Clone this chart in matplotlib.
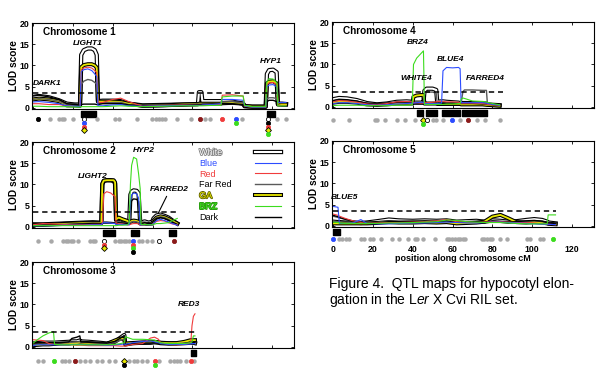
import matplotlib
matplotlib.use("Agg")
import matplotlib.pyplot as plt
import matplotlib.patheffects as pe

plt.rcParams['font.family'] = 'Liberation Sans'
plt.rcParams['mathtext.fontset'] = 'custom'
plt.rcParams['mathtext.rm'] = 'Liberation Sans'
plt.rcParams['mathtext.it'] = 'Liberation Sans:italic'

treatments = ['White', 'Blue', 'Red', 'Far Red', 'GA', 'BRZ', 'Dark']
threshold = 3.6
chrom_len = [127, 72.5, 81.5, 85.5, 112]

# ---- chromosome 1 (cM grid, LOD per treatment)
g1 = [0, 3, 8, 13, 17, 21, 23.6, 24.2, 25.5, 27.5, 29.5, 31, 32, 32.6, 35, 40, 44, 48, 55, 65,
      75, 82.8, 83.3, 84.5, 85, 90, 94.3, 95, 100, 105.5, 106.2, 110, 116.8, 117.4, 118.5, 120.5,
      122.3, 122.9, 125, 127]
c1_white = [2.6, 2.8, 2.5, 1.8, 1.0, 0.8, 0.8, 12.5, 13.6, 14.0, 14.0, 13.6, 12.5, 1.6, 1.7, 1.7, 1.6, 1.0, 0.6, 0.7,
            0.8, 0.9, 3.7, 3.7, 1.6, 1.6, 1.6, 1.6, 1.5, 1.0, 0.4, 0.3, 0.3, 8.0, 8.9, 9.0, 8.4, 1.0, 1.0, 0.9]
c1_blue = [1.4, 1.5, 1.3, 1.0, 0.5, 0.4, 0.3, 8.6, 9.0, 9.2, 8.8, 8.0, 7.4, 0.5, 0.5, 0.7, 0.8, 0.5, 0.4, 0.5,
           0.6, 0.6, 0.6, 0.6, 0.7, 0.8, 1.0, 2.0, 2.0, 1.8, 0.5, 0.2, 0.2, 5.0, 5.4, 5.5, 5.0, 1.3, 1.3, 1.3]
c1_red = [1.0, 1.0, 0.8, 0.8, 0.5, 0.3, 0.3, 9.0, 9.4, 9.6, 9.4, 8.8, 8.3, 1.3, 1.3, 2.0, 2.3, 1.5, 0.4, 0.6,
          0.7, 0.6, 0.6, 0.6, 0.6, 0.8, 0.8, 3.0, 3.1, 2.8, 0.4, 0.2, 0.2, 5.4, 5.9, 6.0, 5.5, 0.6, 0.6, 0.6]
c1_farred = [2.0, 2.2, 2.0, 1.6, 0.8, 0.6, 0.5, 5.5, 6.3, 6.7, 6.5, 6.0, 5.6, 1.2, 1.2, 1.3, 1.3, 0.8, 0.6, 0.7,
             0.8, 0.9, 0.9, 0.9, 1.0, 1.0, 1.0, 1.4, 1.5, 1.2, 0.5, 0.2, 0.2, 2.2, 2.4, 2.4, 2.2, 0.7, 0.5, 0.5]
c1_ga = [2.0, 2.2, 2.0, 1.6, 0.6, 0.6, 0.5, 9.6, 10.1, 10.3, 10.3, 10.0, 9.5, 1.5, 1.5, 1.5, 1.4, 1.0, 0.5, 0.6,
         0.8, 0.9, 1.0, 1.0, 1.0, 1.0, 1.0, 1.1, 1.2, 1.0, 0.5, 0.3, 0.3, 5.8, 6.2, 6.3, 5.8, 0.8, 0.8, 0.8]
c1_brz = [0.4, 0.4, 0.3, 0.3, 0.3, 0.2, 0.2, 0.3, 0.3, 0.3, 0.3, 0.3, 0.3, 0.3, 0.3, 0.4, 0.5, 0.4, 0.3, 0.4,
          0.5, 0.5, 0.5, 0.5, 0.5, 0.6, 0.6, 2.6, 2.8, 2.8, 0.6, 0.3, 0.3, 6.2, 6.9, 6.8, 6.0, 0.5, 0.5, 0.5]
c1_dark = [2.8, 3.0, 2.6, 2.0, 1.0, 0.8, 0.7, 0.8, 0.9, 0.9, 0.9, 0.9, 0.8, 0.8, 1.0, 1.0, 1.0, 0.7, 0.5, 0.6,
           0.7, 0.8, 0.8, 0.8, 0.8, 0.9, 0.9, 1.0, 1.0, 0.8, 0.4, 0.2, 0.2, 1.5, 1.8, 1.8, 1.5, 0.6, 0.5, 0.5]

# ---- chromosome 2
g2 = [0, 5, 10, 15, 20, 25, 30, 34.3, 34.8, 35.5, 37, 39, 40.5, 41.2, 41.7, 43, 45, 47.5, 48.3, 48.9,
      49.5, 50.5, 52, 53, 53.8, 54.2, 56, 58, 59.8, 60.5, 62, 64, 66, 68, 70, 72.4]
c2_white = [0.6, 0.6, 0.7, 0.8, 0.9, 1.0, 1.1, 1.0, 10.0, 10.8, 11.0, 11.0, 10.8, 10.2, 1.6, 2.0, 1.6, 1.3, 1.0, 7.6,
            8.3, 8.6, 8.5, 7.9, 1.0, 1.0, 1.3, 1.0, 1.2, 2.0, 2.7, 2.9, 2.6, 2.2, 1.5, 0.8]
c2_blue = [0.3, 0.3, 0.3, 0.4, 0.4, 0.4, 0.5, 0.5, 0.8, 1.0, 1.0, 0.9, 0.8, 0.8, 0.5, 0.6, 0.6, 0.5, 0.5, 6.0,
           7.5, 8.0, 7.8, 6.8, 0.5, 0.5, 0.6, 0.5, 0.5, 0.8, 1.5, 1.8, 1.5, 1.2, 0.8, 0.4]
c2_red = [0.5, 0.8, 0.7, 0.6, 0.5, 0.5, 0.6, 0.6, 0.7, 7.8, 8.3, 8.0, 7.4, 7.2, 0.6, 0.8, 0.7, 0.5, 0.5, 0.6,
          0.7, 0.8, 0.8, 0.7, 0.5, 0.5, 0.6, 0.5, 0.5, 0.8, 1.3, 1.5, 1.4, 1.0, 0.7, 0.5]
c2_farred = [0.5, 0.5, 0.5, 0.6, 0.7, 0.8, 0.9, 0.8, 1.0, 1.2, 1.2, 1.1, 1.0, 1.0, 1.0, 1.3, 1.0, 0.9, 0.8, 1.0,
             1.2, 1.3, 1.2, 1.0, 0.8, 0.8, 1.0, 0.8, 1.0, 1.6, 2.2, 2.4, 2.2, 1.8, 1.2, 0.6]
c2_ga = [0.5, 0.5, 0.6, 0.7, 0.8, 0.9, 0.9, 0.9, 10.2, 10.9, 11.0, 11.0, 11.0, 10.5, 1.8, 2.2, 1.8, 1.4, 1.0, 1.2,
         1.4, 1.5, 1.4, 1.2, 0.8, 0.8, 0.8, 0.7, 0.8, 1.5, 2.2, 2.5, 2.3, 1.9, 1.4, 0.8]
c2_brz = [0.3, 0.3, 0.3, 0.3, 0.3, 0.3, 0.3, 0.3, 0.3, 0.3, 0.3, 0.3, 0.3, 0.3, 0.3, 0.4, 0.4, 0.5, 1.0, 10.0,
          14.5, 16.4, 16.0, 12.5, 9.0, 0.6, 0.6, 0.5, 0.5, 0.6, 0.8, 0.8, 0.9, 1.0, 1.5, 2.0]
c2_dark = [0.4, 0.4, 0.5, 0.5, 0.6, 0.7, 0.8, 0.8, 0.8, 0.9, 0.9, 0.9, 0.9, 0.9, 0.8, 1.0, 0.9, 0.8, 0.8, 5.0,
           6.2, 6.6, 6.5, 6.0, 0.7, 0.7, 1.0, 0.8, 0.9, 1.5, 2.0, 2.2, 2.0, 1.6, 1.1, 0.6]

# ---- chromosome 3
g3 = [0, 2.5, 5, 8, 10.3, 10.8, 14, 18, 19.5, 22, 23.5, 24, 28, 33, 37, 41, 44, 45.8, 46.3, 50,
      55, 59, 61, 63, 64, 68, 72, 76, 79.2, 79.8, 80.5, 81.3]
c3_white = [0.8, 0.9, 1.0, 1.0, 1.0, 1.0, 1.1, 1.2, 1.3, 1.3, 1.5, 1.3, 1.2, 1.0, 0.8, 1.2, 2.2, 2.8, 0.6, 0.9,
            1.0, 1.0, 1.1, 1.0, 0.9, 0.8, 0.8, 0.9, 1.0, 1.0, 1.0, 0.9]
c3_blue = [0.3, 0.5, 0.5, 0.5, 0.5, 0.5, 0.5, 0.5, 0.6, 0.6, 0.6, 0.6, 0.5, 0.5, 0.4, 0.5, 0.6, 0.7, 0.6, 1.0,
           1.3, 1.4, 1.2, 1.0, 0.8, 0.6, 0.6, 0.6, 0.7, 0.8, 0.8, 0.8]
c3_red = [1.7, 1.6, 1.5, 0.8, 0.6, 0.6, 0.5, 0.5, 0.5, 0.4, 0.4, 0.4, 0.3, 0.3, 0.3, 0.3, 0.2, 0.2, 0.2, 0.6,
          0.8, 2.1, 2.3, 1.8, 1.0, 0.6, 0.5, 0.6, 1.0, 5.0, 7.2, 7.8]
c3_farred = [0.6, 0.7, 0.7, 0.8, 0.8, 0.8, 0.9, 1.0, 1.1, 1.2, 1.2, 1.1, 1.0, 0.9, 0.8, 1.0, 1.6, 1.8, 0.5, 0.8,
             0.9, 0.9, 1.0, 0.9, 0.8, 0.8, 0.8, 0.9, 1.0, 1.0, 1.0, 1.0]
c3_ga = [0.4, 0.5, 0.6, 0.6, 0.7, 0.7, 0.8, 0.8, 0.9, 0.9, 1.0, 1.0, 0.9, 0.8, 0.7, 1.5, 2.0, 1.8, 0.8, 0.9,
         1.0, 1.1, 1.2, 1.1, 1.0, 0.9, 0.9, 1.2, 1.6, 1.6, 1.6, 1.6]
c3_brz = [0.9, 1.8, 2.6, 3.3, 3.6, 0.6, 0.5, 0.5, 0.5, 0.5, 0.5, 0.5, 0.5, 0.5, 0.5, 0.6, 0.8, 1.0, 2.4, 1.8,
          1.8, 1.7, 1.6, 1.2, 1.0, 0.8, 0.8, 0.8, 1.0, 1.2, 2.6, 2.6]
c3_dark = [1.0, 1.0, 1.0, 1.0, 1.0, 1.0, 1.0, 1.2, 2.0, 2.3, 2.6, 1.2, 1.1, 1.0, 0.9, 1.3, 2.1, 2.7, 0.6, 0.8,
           0.9, 0.9, 1.0, 0.9, 0.8, 0.7, 0.7, 0.8, 0.9, 1.0, 1.0, 1.0]

# ---- chromosome 4
g4 = [0, 3, 7, 12, 17, 22, 27, 32, 37, 39.8, 40.4, 42, 44, 45.4, 45.9, 47, 50, 51.8, 52.3, 54.5,
      55.2, 57, 60, 63, 63.8, 64.3, 65.2, 66, 70, 75, 77, 77.5, 80, 83.6]
c4_white = [1.8, 2.1, 2.0, 1.6, 0.9, 0.6, 0.8, 1.2, 1.3, 1.2, 1.0, 1.0, 1.0, 1.0, 3.8, 4.3, 4.3, 4.0, 1.2, 1.3,
            1.3, 1.2, 1.1, 1.0, 0.9, 0.9, 0.9, 0.9, 0.9, 0.8, 0.8, 0.6, 0.5, 0.4]
c4_blue = [0.8, 1.0, 1.0, 0.8, 0.5, 0.4, 0.5, 0.7, 0.8, 0.9, 0.9, 1.0, 1.1, 1.1, 0.8, 0.8, 0.8, 0.8, 0.8, 0.9,
           8.5, 9.3, 9.2, 9.3, 9.0, 1.0, 1.0, 1.0, 1.0, 1.0, 0.9, 0.8, 0.6, 0.4]
c4_red = [1.2, 1.5, 1.4, 1.1, 0.7, 0.5, 0.8, 1.2, 1.3, 1.2, 1.0, 1.0, 0.9, 0.9, 1.0, 1.0, 1.1, 1.2, 1.3, 1.3,
          1.3, 1.2, 1.2, 1.1, 1.0, 0.9, 0.9, 0.9, 0.9, 0.8, 0.7, 0.6, 0.5, 0.4]
c4_farred = [1.4, 1.7, 1.6, 1.3, 0.8, 0.6, 0.8, 1.0, 1.1, 1.0, 0.9, 0.9, 0.9, 0.9, 3.0, 3.5, 3.5, 3.2, 0.9, 0.9,
             0.9, 0.9, 0.9, 0.9, 0.9, 0.9, 3.6, 4.0, 4.0, 3.9, 3.9, 0.8, 0.6, 0.4]
c4_ga = [1.0, 1.2, 1.2, 1.0, 0.6, 0.5, 0.6, 0.8, 0.8, 0.8, 2.4, 2.7, 2.8, 2.8, 0.8, 0.8, 0.8, 0.8, 0.7, 0.7,
         0.7, 0.7, 0.7, 0.7, 0.7, 0.6, 0.6, 0.6, 0.6, 0.6, 0.5, 0.5, 0.4, 0.3]
c4_brz = [0.3, 0.4, 0.4, 0.4, 0.3, 0.3, 0.3, 0.4, 0.4, 0.5, 10.0, 11.5, 12.5, 13.2, 0.6, 0.6, 0.6, 0.6, 0.6, 0.6,
          0.6, 0.7, 0.7, 0.8, 0.8, 1.8, 2.1, 2.0, 1.4, 1.3, 1.2, 1.1, 0.8, 0.5]
c4_dark = [1.5, 1.8, 1.7, 1.4, 0.8, 0.6, 0.8, 1.1, 1.2, 1.1, 0.9, 0.9, 0.9, 0.9, 0.9, 0.9, 0.9, 0.9, 0.8, 0.8,
           0.8, 0.8, 0.8, 0.8, 0.8, 0.8, 0.8, 0.8, 0.8, 0.7, 0.7, 0.6, 0.5, 0.4]

# ---- chromosome 5
g5 = [0, 2.5, 3.2, 6, 10, 14, 17, 22, 28, 33, 40, 46, 52, 57, 62, 67, 72, 76, 80, 84,
      88, 92, 97, 101, 105, 107.5, 108, 111.7]
c5_white = [1.0, 0.9, 0.9, 0.8, 0.8, 0.7, 0.8, 1.1, 1.5, 1.3, 1.2, 1.3, 1.2, 1.3, 1.0, 1.1, 1.2, 1.0, 1.3, 1.2,
            1.0, 1.1, 1.4, 1.6, 1.4, 1.0, 0.8, 0.6]
c5_blue = [4.6, 4.4, 0.6, 0.6, 0.7, 1.5, 0.6, 0.5, 0.5, 0.6, 0.7, 0.7, 0.8, 0.9, 0.8, 0.7, 0.7, 0.8, 0.9, 0.9,
           0.8, 0.7, 0.6, 0.5, 0.4, 0.4, 0.4, 0.3]
c5_red = [2.8, 2.5, 2.3, 1.8, 1.2, 0.8, 0.6, 0.7, 0.8, 0.8, 0.9, 1.0, 1.2, 1.5, 1.0, 0.9, 0.8, 0.9, 1.0, 1.0,
          0.9, 0.8, 0.8, 0.7, 0.5, 0.4, 0.4, 0.3]
c5_farred = [2.3, 2.0, 1.9, 1.6, 1.2, 0.9, 0.7, 0.8, 1.1, 1.0, 1.0, 1.0, 1.0, 1.1, 0.9, 0.9, 1.0, 0.9, 1.1, 1.0,
             0.9, 0.9, 1.1, 1.2, 1.0, 0.8, 0.6, 0.5]
c5_ga = [0.6, 0.6, 0.6, 0.6, 0.6, 0.6, 0.6, 0.7, 0.9, 0.8, 0.8, 0.9, 0.8, 0.9, 0.6, 0.7, 0.8, 1.0, 2.2, 2.6,
         1.8, 0.9, 0.8, 0.9, 0.8, 0.6, 0.5, 0.4]
c5_brz = [0.9, 0.8, 0.7, 0.6, 0.6, 0.6, 0.6, 0.6, 0.7, 0.7, 0.8, 0.9, 1.0, 1.4, 1.3, 1.0, 0.9, 0.8, 0.8, 0.8,
          0.7, 0.6, 0.5, 0.5, 0.5, 0.5, 2.6, 2.6]
c5_dark = [2.5, 2.2, 2.0, 1.6, 1.1, 0.8, 0.6, 0.7, 1.0, 1.0, 1.1, 1.0, 1.1, 1.2, 0.9, 1.0, 1.0, 0.9, 1.2, 1.1,
           1.0, 1.0, 1.2, 1.3, 1.1, 0.8, 0.6, 0.5]

# marker positions (cM) under each map
m1 = [8.6, 13.3, 14.4, 15.6, 20, 32, 41.3, 43, 52, 59.8, 61.5, 63.1, 64.8, 66.5, 72.4, 79.1, 86.1, 88.7, 105, 122.4, 127]
m2 = [2.7, 8.9, 15.3, 16.5, 17.8, 19.0, 20.3, 22.8, 28.7, 30.1, 31.2, 41.3, 43.0, 44.2, 45.5, 46.9, 48.0, 53.1, 54.7, 57.3, 59.8]
m3 = [2.7, 5.2, 14.4, 16.1, 18.3, 23.7, 26.2, 28.7, 32.1, 34.6, 38.0, 41.3, 48.0, 50.5, 52.2, 54.7, 57.3, 63.1, 69.0, 70.7,
      72.4, 74.0, 76.6, 80.8]
m4 = [0, 8.1, 21, 22.3, 26, 31.9, 36.1, 41.1, 50.4, 51.7, 55.4, 63.8, 72.2, 76.4, 83.6]
m5 = [3.0, 4.7, 6.4, 8.1, 14.3, 15.4, 18.8, 20.3, 24.3, 29.4, 33.2, 37.8, 41.1, 42.3, 45.0, 51.2, 57.1, 58.4, 59.8, 61.1,
      62.5, 63.8, 65.2, 66.2, 74.7, 75.9, 77.3, 78.6, 79.9, 84.0, 87.3, 97.4, 98.7, 104.1, 105.4]

# markers nearest each QTL, per treatment
hits1 = [(2.4, ['Dark']), (25.4, ['White', 'Blue', 'Red', 'GA']), (83.6, ['Far Red']), (95, ['Red']),
         (101.8, ['Blue', 'BRZ']), (117.7, ['White', 'Dark', 'Red', 'GA', 'BRZ'])]
hits2 = [(35.8, ['White', 'Red', 'GA']), (50, ['Blue', 'Red', 'BRZ', 'Dark']), (63.3, ['White']), (71, ['Far Red'])]
hits3 = [(10.3, ['BRZ']), (21.2, ['Far Red']), (45.5, ['GA', 'Dark']), (61, ['Red', 'BRZ']), (79.1, ['Red'])]
hits4 = [(45, ['GA', 'BRZ']), (47, ['White']), (59.6, ['Blue']), (67.6, ['Far Red'])]
hits5 = [(0, ['Blue']), (110.4, ['BRZ'])]

# QTL confidence intervals (cM)
bars1 = [(24.2, 31.6), (117.4, 121.4)]
bars2 = [(35, 41.3), (49.4, 53), (68.5, 72)]
bars3 = [(79.4, 81.8)]
bars4 = [(42, 45.3), (46.7, 52.4), (54.6, 63.8), (64.6, 77.2)]
bars5 = [(0, 3.4)]

# QTL names
names1 = [('LIGHT1', 27.4, 15.2), ('HYP1', 119.4, 11.0), ('DARK1', 7, 5.8)]
names2 = [('LIGHT2', 30, 11.9), ('HYP2', 55.6, 18.0), ('FARRED2', 68.2, 8.9)]
names3 = [('RED3', 78.3, 9.9)]
names4 = [('BRZ4', 42.3, 15.2), ('BLUE4', 58.8, 11.1), ('WHITE4', 42, 6.6), ('FARRED4', 76.4, 6.6)]
names5 = [('BLUE5', 5.9, 6.7)]

line_color = {'White': 'white', 'Blue': '#2c4cff', 'Red': '#f03c3c', 'Far Red': '#5a5a5a',
              'GA': '#e8e800', 'BRZ': '#3cdc1e', 'Dark': 'black'}
dot_color = {'White': 'white', 'Blue': '#2c4cff', 'Red': '#f03c3c', 'Far Red': '#8b1a1a',
             'GA': '#e8e800', 'BRZ': '#3cdc1e', 'Dark': 'black'}
draw_order = ['White', 'GA', 'Far Red', 'Dark', 'Red', 'Blue', 'BRZ']

fig = plt.figure(figsize=(6, 3.78), dpi=100)
axw = 262 / 600
axh = 86 / 378
ax1 = fig.add_axes([32 / 600, 1 - 109 / 378, axw, axh])
ax2 = fig.add_axes([32 / 600, 1 - 228 / 378, axw, axh])
ax3 = fig.add_axes([32 / 600, 1 - 348 / 378, axw, axh])
ax4 = fig.add_axes([332 / 600, 1 - 108 / 378, axw, axh])
ax5 = fig.add_axes([332 / 600, 1 - 227 / 378, axw, axh])


def draw_chrom(ax, num, length, grid, curves, markers, hits, bars, names, row):
    lines = {}
    for t in draw_order:
        y = curves[t]
        if t == 'White':
            ln, = ax.plot(grid, y, color='white', lw=1.5, solid_joinstyle='round',
                          path_effects=[pe.Stroke(linewidth=3.1, foreground='black'), pe.Normal()])
        elif t == 'GA':
            ln, = ax.plot(grid, y, color=line_color[t], lw=1.3,
                          path_effects=[pe.Stroke(linewidth=2.9, foreground='black'), pe.Normal()])
        elif t in ('Far Red', 'Dark'):
            ln, = ax.plot(grid, y, color=line_color[t], lw=1.0)
        else:
            ln, = ax.plot(grid, y, color=line_color[t], lw=0.8)
        lines[t] = ln
    ax.plot([0, length], [threshold, threshold], color='black', lw=1.1, ls=(0, (3.5, 2.5)))

    ax.set_xlim(-0.5, 131)
    ax.set_ylim(-0.25, 20)
    ax.set_yticks([0, 5, 10, 15, 20])
    ax.set_xticks([0, 20, 40, 60, 80, 100, 120])
    ax.tick_params(direction='in', length=2, width=0.6, top=True, right=True, labelsize=6.3, pad=2)
    for lab in ax.get_yticklabels():
        lab.set_fontweight('bold')
    for s in ax.spines.values():
        s.set_linewidth(0.8)
    ax.set_ylabel('LOD score', fontsize=7.3, fontweight='bold', labelpad=0.5)
    ax.text(0.042, 0.9, 'Chromosome %d' % num, transform=ax.transAxes, fontsize=7.2,
            fontweight='bold', va='center')

    trans = ax.get_xaxis_transform()
    ax.broken_barh([(a, b - a) for a, b in bars], (-0.09, 0.068), transform=trans,
                   color='black', clip_on=False)
    ax.plot(markers, [row] * len(markers), ls='none', marker='o', ms=2.2, mfc='#a8a8a8',
            mec='#a8a8a8', transform=trans, clip_on=False)
    for pos, ts in hits:
        for k, t in enumerate(ts):
            mk = 'D' if t == 'GA' else 'o'
            edge = 'black' if t in ('White', 'GA') else dot_color[t]
            ax.plot([pos], [row - 0.042 * k], ls='none', marker=mk, ms=3.0, mfc=dot_color[t],
                    mec=edge, mew=0.6, transform=trans, clip_on=False)
    for txt, x, y in names:
        ax.text(x, y, txt, fontsize=6, fontweight='bold', style='italic', ha='center', va='center')
    return lines


draw_chrom(ax1, 1, chrom_len[0], g1,
           {'White': c1_white, 'Blue': c1_blue, 'Red': c1_red, 'Far Red': c1_farred,
            'GA': c1_ga, 'BRZ': c1_brz, 'Dark': c1_dark}, m1, hits1, bars1, names1, -0.12)
lines2 = draw_chrom(ax2, 2, chrom_len[1], g2,
                    {'White': c2_white, 'Blue': c2_blue, 'Red': c2_red, 'Far Red': c2_farred,
                     'GA': c2_ga, 'BRZ': c2_brz, 'Dark': c2_dark}, m2, hits2, bars2, names2, -0.15)
draw_chrom(ax3, 3, chrom_len[2], g3,
           {'White': c3_white, 'Blue': c3_blue, 'Red': c3_red, 'Far Red': c3_farred,
            'GA': c3_ga, 'BRZ': c3_brz, 'Dark': c3_dark}, m3, hits3, bars3, names3, -0.15)
draw_chrom(ax4, 4, chrom_len[3], g4,
           {'White': c4_white, 'Blue': c4_blue, 'Red': c4_red, 'Far Red': c4_farred,
            'GA': c4_ga, 'BRZ': c4_brz, 'Dark': c4_dark}, m4, hits4, bars4, names4, -0.14)
draw_chrom(ax5, 5, chrom_len[4], g5,
           {'White': c5_white, 'Blue': c5_blue, 'Red': c5_red, 'Far Red': c5_farred,
            'GA': c5_ga, 'BRZ': c5_brz, 'Dark': c5_dark}, m5, hits5, bars5, names5, -0.14)

for ax in (ax1, ax2, ax3, ax4):
    ax.tick_params(labelbottom=False)
ax5.tick_params(axis='x', pad=13)
for lab in ax5.get_xticklabels():
    lab.set_fontweight('bold')
ax5.set_xlabel('position along chromosome cM', fontsize=6.5, fontweight='bold', labelpad=0)

ax2.annotate('', xy=(62.3, 2.7), xytext=(67.7, 7.8),
             arrowprops=dict(arrowstyle='-', lw=0.8, color='black'))

# legend: text column (left aligned) and a separate column of line samples
leg_kw = dict(loc='upper left', frameon=False, fontsize=6.5, labelspacing=0.2,
              borderpad=0, borderaxespad=0)
leg_txt = ax2.legend([lines2[t] for t in treatments], treatments, bbox_to_anchor=(0.638, 0.93),
                     handlelength=0, handletextpad=0, **leg_kw)
for h in leg_txt.legend_handles:
    h.set_visible(False)
txt_style = {'White': ('white', '#808080'), 'Blue': ('#2c4cff', None), 'Red': ('#f03c3c', None),
             'Far Red': ('black', None), 'GA': ('#e8e800', '#606000'), 'BRZ': ('#3cdc1e', '#2a9a10'),
             'Dark': ('black', None)}
for t, txt in zip(treatments, leg_txt.get_texts()):
    fc, ec = txt_style[t]
    txt.set_color(fc)
    if ec:
        txt.set_path_effects([pe.Stroke(linewidth=1.2, foreground=ec), pe.Normal()])
ax2.add_artist(leg_txt)
ax2.legend([lines2[t] for t in treatments], [' '] * len(treatments), bbox_to_anchor=(0.852, 0.93),
           handlelength=2.9, handletextpad=0, **leg_kw)

fig.text(329 / 600, 1 - 288 / 378, 'Figure 4.  QTL maps for hypocotyl elon-', fontsize=10, va='baseline')
fig.text(329 / 600, 1 - 304 / 378, r'gation in the L$\mathit{er}$ X Cvi RIL set.', fontsize=10, va='baseline')

fig.savefig('out.png', dpi=100)
